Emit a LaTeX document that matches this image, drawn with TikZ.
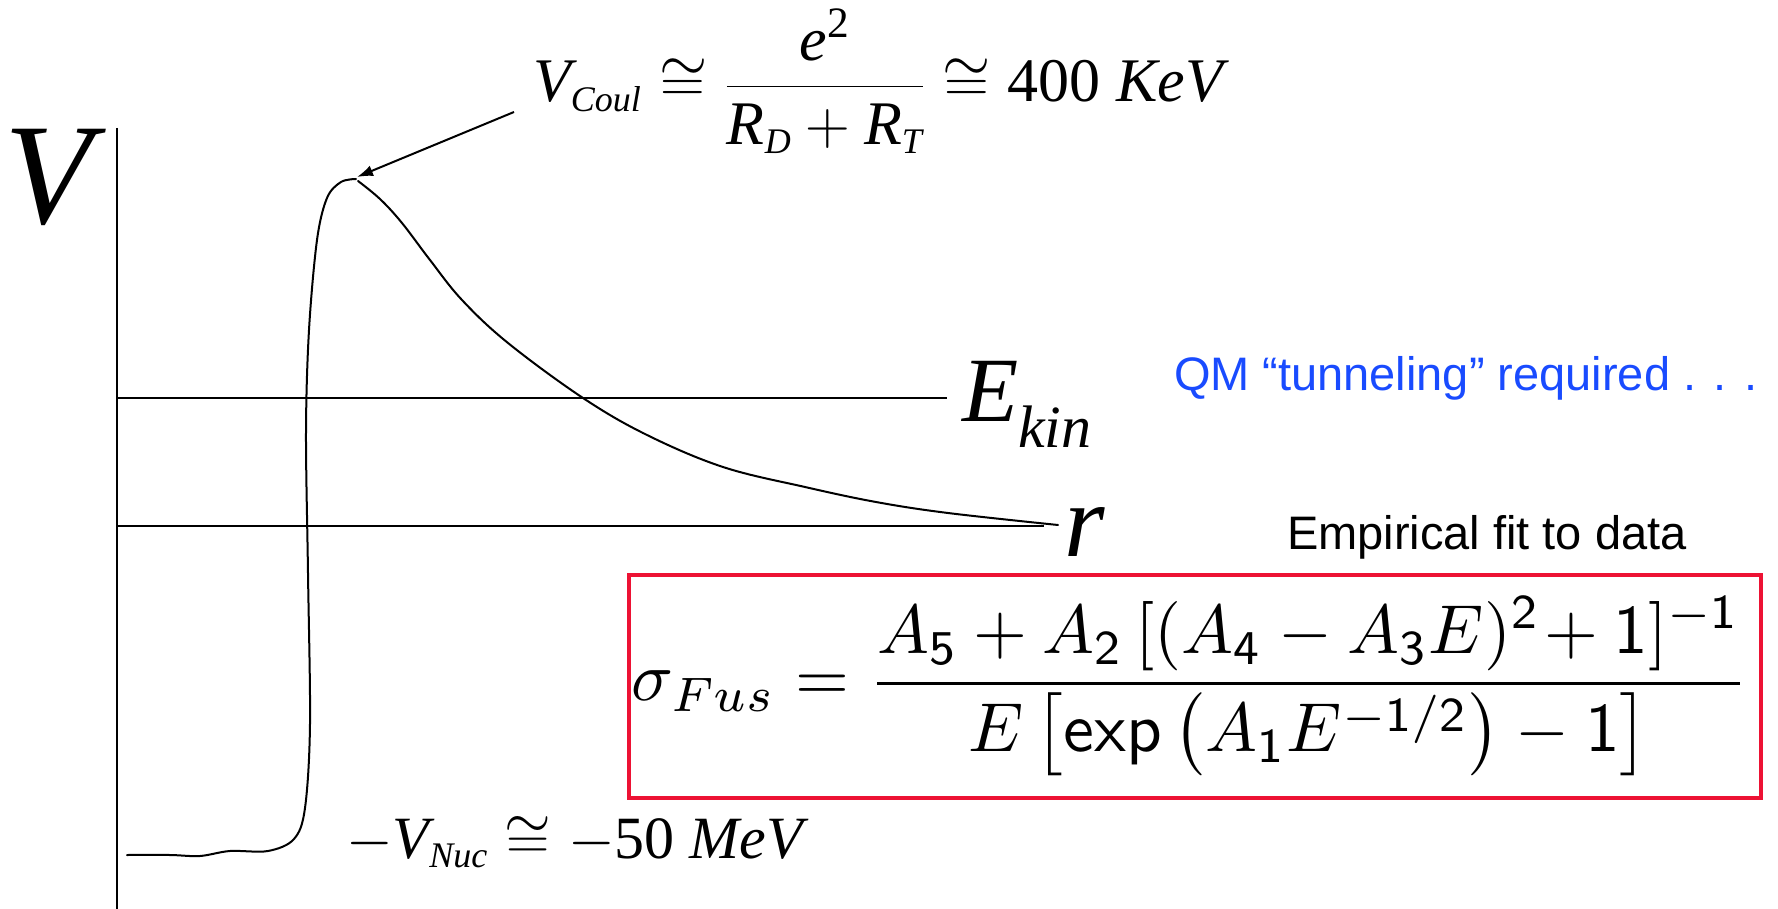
\RequirePackage{fix-cm}
\documentclass[tikz,border=0pt]{standalone}
\usepackage{amsmath}
\usepackage[no-math]{fontspec}
\setmainfont{Liberation Serif}
\newfontfamily\arialf{Liberation Sans}
\usetikzlibrary{arrows.meta}
\definecolor{boxred}{RGB}{237,18,52}
\definecolor{qmblue}{RGB}{25,75,255}
\newcommand\tim[1]{\text{\itshape #1}}
\newcommand\tup[1]{\text{\upshape #1}}
\newcommand\subi[1]{\text{\fontsize{18}{20}\selectfont\itshape #1}}
\begin{document}
\begin{tikzpicture}[x=0.5pt,y=-0.5pt,
  lbl/.style={anchor=base west,inner sep=0pt,outer sep=0pt},
  axisline/.style={line width=1.1pt},
  curveline/.style={line width=1pt,line cap=round,line join=round},
  pointer/.style={line width=1pt,-{Latex[length=8pt,width=5.5pt]}},
  fitbox/.style={draw=boxred,line width=2.25pt,minimum width=566pt,minimum height=111.5pt,inner sep=0pt}]
\useasboundingbox (0,0) rectangle (1778,909);
% axes
\coordinate (ytop) at (117,128);
\coordinate (ybot) at (117,909);
\coordinate (ekL) at (117,398);
\coordinate (ekR) at (947,398);
\coordinate (rL) at (117,526);
\coordinate (rR) at (1044,526);
\draw[axisline] (ytop) -- (ybot);
\draw[axisline] (ekL) -- (ekR);
\draw[axisline] (rL) -- (rR);
% labels
\node[lbl,font=\fontsize{72}{80}\selectfont] (vlab) at (4,224) {\textit{V}};
\node[lbl,font=\fontsize{46}{50}\selectfont] (eklab) at (962,422) {\textit{E}\raisebox{-13pt}{\fontsize{30}{32}\selectfont\itshape kin}};
\node[lbl,font=\fontsize{52}{56}\selectfont] (rlab) at (1064,556) {\textit{r}};
\node[lbl,font=\fontsize{31}{36}\selectfont] (vc) at (533,102)
  {$\tim{V}_{\subi{Coul}} \cong \dfrac{\tim{e}^{\tup{2}}}{\tim{R}_{\subi{D}}+\tim{R}_{\subi{T}}} \cong \tup{400}\ \tim{KeV}$};
\node[lbl,font=\fontsize{30}{36}\selectfont] (vn) at (346,858)
  {$-\tim{V}_{\subi{Nuc}} \cong -\tup{50}\ \tim{MeV}$};
\node[lbl,font=\arialf\fontsize{23.5}{28}\selectfont,text=qmblue] (qm) at (1174,390) {QM “tunneling” required . . .};
\node[lbl,font=\arialf\fontsize{23.5}{28}\selectfont] (emp) at (1287,549) {Empirical fit to data};
% box formula
\node[fitbox] (box) at (1195,686.5) {\raisebox{-3.25pt}{\resizebox{558pt}{!}{$\sigma_{Fus} = \dfrac{A_{\mathsf 5} + A_{\mathsf 2}\,[(A_{\mathsf 4} - A_{\mathsf 3}E)^{\mathsf 2}\!+ \mathsf{1}]^{-\mathsf 1}}{E\left[\mathsf{exp}\left(A_{\mathsf 1}E^{-\mathsf{1}/\mathsf{2}}\right) - \mathsf 1\right]}$}}\hspace*{5pt}};
% potential curve
\coordinate (peak) at (357,177);
\coordinate (arrs) at (514,112);
\draw[curveline] plot[smooth,tension=0.55] coordinates {(127,855) (170,855) (200,856) (230,851) (268,851) (294,839) (305,808) (310,724) (308,573) (306,432) (309,330) (317,240) (327,198) (341,182) (356,179)};
\draw[curveline] plot[smooth,tension=0.6] coordinates {(358,181) (380,199) (402,223) (430,260) (462,300) (508,343) (583,398) (647,435) (723,467) (805,487) (876,502) (948,513) (1058,525)};
\draw[pointer] (arrs) -- (peak);
\end{tikzpicture}
\end{document}
